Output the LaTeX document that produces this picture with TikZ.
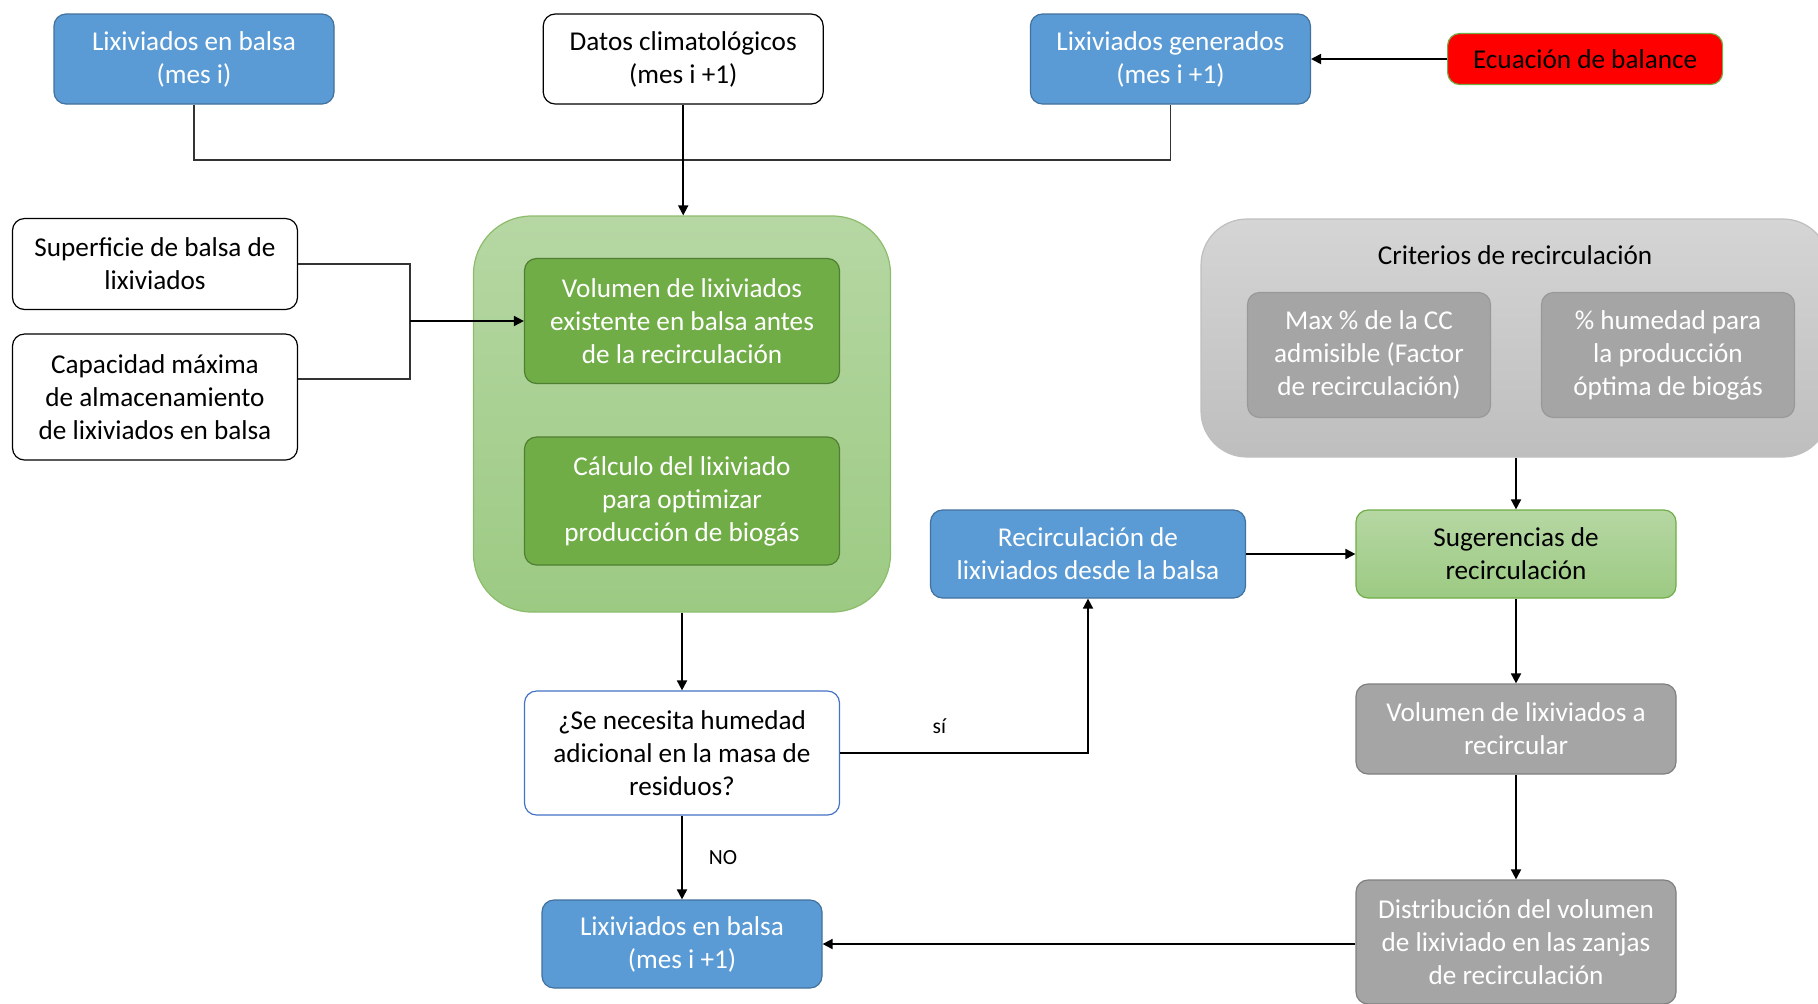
\documentclass[tikz,border=0pt]{standalone}
\usepackage{fontspec}
\setmainfont{Carlito}
\usetikzlibrary{arrows.meta, positioning}
\definecolor{OfficeBlue}{HTML}{5B9BD5}
\definecolor{OfficeBlueDark}{HTML}{41719C}
\definecolor{QuestionBlue}{HTML}{4472C4}
\definecolor{LeafGreen}{HTML}{70AD47}
\definecolor{LeafGreenDark}{HTML}{507E32}
\definecolor{PaleGreenTop}{HTML}{B6D7A3}
\definecolor{PaleGreenBot}{HTML}{9CCA83}
\definecolor{SilverTop}{HTML}{D5D5D5}
\definecolor{SilverBot}{HTML}{BEBEBE}
\definecolor{SilverLine}{HTML}{BFBFBF}
\definecolor{StoneGray}{HTML}{A5A5A5}
\definecolor{StoneLine}{HTML}{7F7F7F}
\definecolor{AlarmRed}{HTML}{FF0000}

\begin{document}
\begin{tikzpicture}[x=0.5pt, y=-0.5pt,
            box/.style={rectangle, align=center, rounded corners=6pt, line width=0.6pt, inner sep=2pt, font=\fontsize{13.6}{16.5}\selectfont},
            bluebox/.style={box, fill=OfficeBlue, draw=OfficeBlueDark, text=white},
            whitebox/.style={box, fill=white, draw=black},
            askbox/.style={box, fill=white, draw=QuestionBlue},
            redbox/.style={box, fill=AlarmRed, draw=LeafGreen, text=black},
            greenbox/.style={box, fill=LeafGreen, draw=LeafGreenDark, text=white},
            palebox/.style={box, top color=PaleGreenTop, bottom color=PaleGreenBot, draw=LeafGreen, text=black},
            stonebox/.style={box, fill=StoneGray, draw=StoneLine, text=white},
            groupbox/.style={rectangle, line width=0.6pt},
            conn/.style={draw=black, line width=0.9pt, -{Triangle[length=5pt, width=5pt]}},
            link/.style={draw=black!80, line width=0.9pt},
            lbl/.style={inner sep=0pt, font=\fontsize{10.8}{13}\selectfont}
        ]
            \useasboundingbox (0,0) rectangle (1818,1003);

            % containers behind
            \node[groupbox, rounded corners=29pt, top color=PaleGreenTop, bottom color=PaleGreenBot, draw=LeafGreen!80, minimum width=208.5pt, minimum height=198pt] (calcgrp) at (682,414) {};
            \node[groupbox, rounded corners=23pt, top color=SilverTop, bottom color=SilverBot, draw=SilverLine, minimum width=314pt, minimum height=119pt] (critgrp) at (1515,338) {};

            % top row
            \node[bluebox, minimum width=140pt, minimum height=45pt] (lixmes) at (194,59) {Lixiviados en balsa\\(mes i)};
            \node[whitebox, minimum width=140pt, minimum height=45pt, right=104pt of lixmes] (datos) {Datos climatológicos\\(mes i +1)};
            \node[bluebox, minimum width=140pt, minimum height=45pt, right=103pt of datos] (lixgen) {Lixiviados generados\\(mes i +1)};
            \node[redbox, minimum width=137.5pt, minimum height=25.5pt, right=68pt of lixgen] (ecuacion) {Ecuación de balance};

            % left inputs
            \node[whitebox, minimum width=142.5pt, minimum height=45.5pt] (superficie) at (155,264) {Superficie de balsa de\\lixiviados};
            \node[whitebox, minimum width=142.5pt, minimum height=63pt] (capacidad) at (155,397) {Capacidad máxima\\de almacenamiento\\de lixiviados en balsa};

            % calculation block
            \node[greenbox, minimum width=157.5pt, minimum height=62.5pt] (volumen) at (682,321) {Volumen de lixiviados\\existente en balsa antes\\de la recirculación};
            \node[greenbox, minimum width=157.5pt, minimum height=64pt] (calculo) at (682,501) {Cálculo del lixiviado\\para optimizar\\producción de biogás};

            % criteria block
            \node[box, text=black] (crittitulo) at (1515,255) {Criterios de recirculación};
            \node[stonebox, draw=StoneLine!80, minimum width=121.5pt, minimum height=62.5pt] (maxcc) at (1369,355) {Max \% de la CC\\admisible (Factor\\de recirculación)};
            \node[stonebox, draw=StoneLine!80, minimum width=126.5pt, minimum height=62.5pt] (humedad) at (1668,355) {\% humedad para\\la producción\\óptima de biogás};

            % decision and recirculation
            \node[askbox, minimum width=157.5pt, minimum height=62pt] (pregunta) at (682,753) {¿Se necesita humedad\\adicional en la masa de\\residuos?};
            \node[bluebox, minimum width=157.5pt, minimum height=44pt] (recirc) at (1088,554) {Recirculación de\\lixiviados desde la balsa};
            \node[palebox, minimum width=160pt, minimum height=44pt] (sugerencias) at (1516,554) {Sugerencias de\\recirculación};
            \node[stonebox, minimum width=160pt, minimum height=45pt] (volrec) at (1516,729) {Volumen de lixiviados a\\recircular};
            \node[stonebox, minimum width=160pt, minimum height=62pt] (distrib) at (1516,942) {Distribución del volumen\\de lixiviado en las zanjas\\de recirculación};
            \node[bluebox, minimum width=140pt, minimum height=44pt] (lixsig) at (682,944) {Lixiviados en balsa\\(mes i +1)};

            % connectors
            \coordinate (bus) at (682,160);
            \coordinate (junta) at (410,321);
            \draw[link] (lixmes.south) |- (bus);
            \draw[link] (lixgen.south) |- (bus);
            \draw[conn] (datos.south) -- (datos.south |- calcgrp.north);
            \draw[conn] (ecuacion.west) -- (ecuacion.west -| lixgen.east);
            \draw[link] (superficie.east) -| (junta);
            \draw[link] ([yshift=9pt]capacidad.east) -| (junta);
            \draw[conn] (junta) -- (volumen.west);
            \draw[conn] (calcgrp.south) -- (pregunta.north);
            \draw[conn] (pregunta.east) -| node[lbl, pos=0.2, above=9pt] {sí} (recirc.south);
            \draw[conn] (pregunta.south) -- node[lbl, right=13pt] {NO} (lixsig.north);
            \draw[conn] (recirc.east) -- (sugerencias.west);
            \draw[conn] (sugerencias.north |- critgrp.south) -- (sugerencias.north);
            \draw[conn] (sugerencias.south) -- (volrec.north);
            \draw[conn] (volrec.south) -- (distrib.north);
            \draw[conn] (distrib.west |- lixsig.east) -- (lixsig.east);
        \end{tikzpicture}
\end{document}
